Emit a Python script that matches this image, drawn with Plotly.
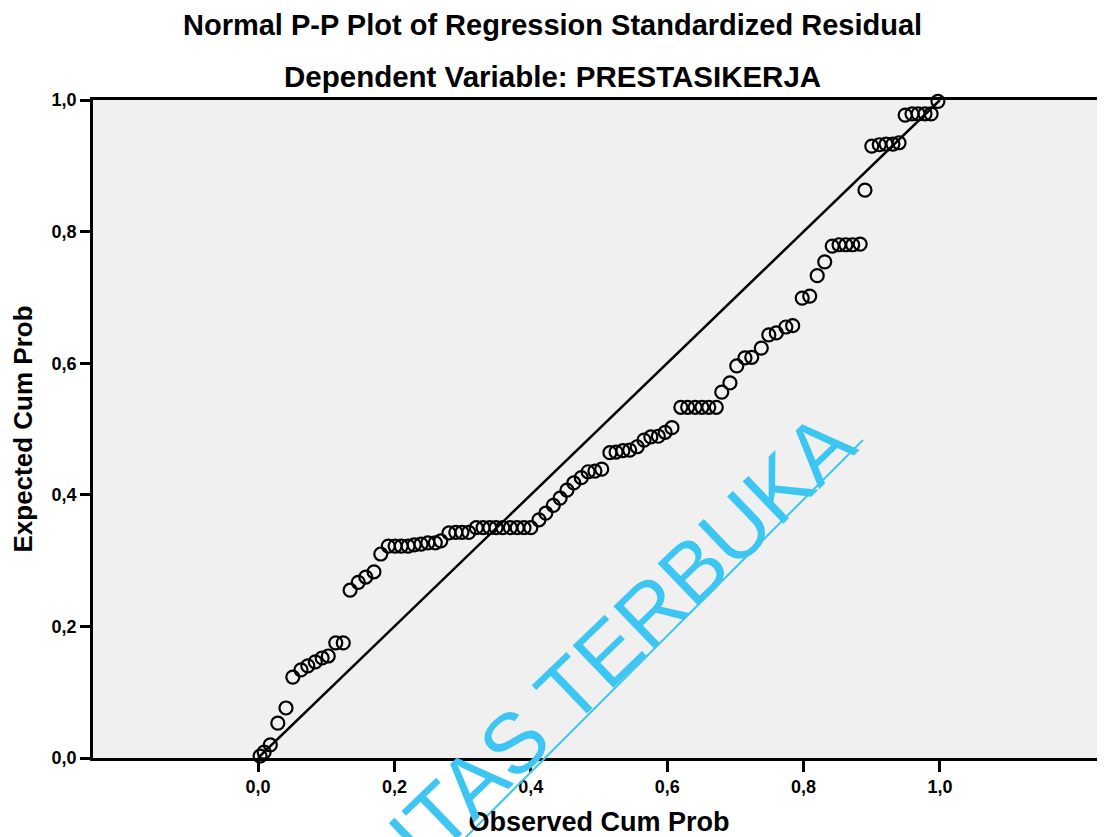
import plotly.graph_objects as go

# Observed cumulative probability (x) and expected cumulative probability (y)
observed_cum_prob = [
    0.003, 0.009, 0.018, 0.029, 0.041, 0.051, 0.063, 0.073, 0.084, 0.094,
    0.103, 0.114, 0.125, 0.135, 0.147, 0.158, 0.170, 0.180, 0.191, 0.201,
    0.210, 0.220, 0.229, 0.239, 0.249, 0.260, 0.268, 0.280, 0.290, 0.299,
    0.309, 0.320, 0.330, 0.340, 0.349, 0.359, 0.370, 0.380, 0.390, 0.400,
    0.412, 0.422, 0.433, 0.443, 0.453, 0.463, 0.474, 0.484, 0.494, 0.504,
    0.516, 0.525, 0.535, 0.545, 0.556, 0.566, 0.576, 0.587, 0.597, 0.607,
    0.620, 0.630, 0.641, 0.651, 0.661, 0.672, 0.680, 0.692, 0.702, 0.714,
    0.724, 0.738, 0.749, 0.760, 0.774, 0.784, 0.798, 0.809, 0.820, 0.831,
    0.842, 0.852, 0.862, 0.872, 0.883, 0.890, 0.900, 0.911, 0.921, 0.931,
    0.940, 0.949, 0.959, 0.968, 0.978, 0.987, 0.997,
]
expected_cum_prob = [
    0.003, 0.009, 0.020, 0.053, 0.076, 0.123, 0.134, 0.140, 0.146, 0.152,
    0.155, 0.175, 0.175, 0.255, 0.267, 0.275, 0.283, 0.310, 0.322, 0.322,
    0.322, 0.322, 0.324, 0.325, 0.327, 0.327, 0.330, 0.342, 0.343, 0.343,
    0.343, 0.350, 0.350, 0.350, 0.350, 0.350, 0.350, 0.350, 0.350, 0.350,
    0.362, 0.372, 0.384, 0.395, 0.407, 0.418, 0.426, 0.435, 0.436, 0.439,
    0.464, 0.465, 0.467, 0.468, 0.473, 0.483, 0.488, 0.489, 0.495, 0.502,
    0.533, 0.533, 0.533, 0.533, 0.533, 0.533, 0.556, 0.570, 0.596, 0.608,
    0.609, 0.623, 0.643, 0.646, 0.655, 0.657, 0.699, 0.702, 0.733, 0.754,
    0.778, 0.780, 0.780, 0.780, 0.781, 0.863, 0.930, 0.932, 0.933, 0.933,
    0.935, 0.977, 0.979, 0.979, 0.979, 0.979, 0.998,
]
reference_line = [0.0, 1.0]
tick_values = [0.0, 0.2, 0.4, 0.6, 0.8, 1.0]
tick_labels = ["0,0", "0,2", "0,4", "0,6", "0,8", "1,0"]

FONT = "Liberation Sans, Arial, sans-serif"
OFF = 8  # default page body margin in the browser
W, H = 1105 - OFF, 837 - OFF
ML, MR, MT, MB = 93 - OFF, 0, 100 - OFF, 79
plot_w = W - ML - MR
plot_h = H - MT - MB


def px_to_paper(px, py):
    # convert a screenshot pixel position into plot-area paper fractions
    return (px - OFF - ML) / plot_w, (H - MB - (py - OFF)) / plot_h


fig = go.Figure()
fig.add_trace(go.Scatter(
    x=reference_line, y=reference_line, mode="lines",
    line=dict(color="black", width=2.5), showlegend=False, hoverinfo="skip",
))
fig.add_trace(go.Scatter(
    x=observed_cum_prob, y=expected_cum_prob, mode="markers",
    marker=dict(symbol="circle-open", size=13, color="black", line=dict(width=2.2, color="black")),
    showlegend=False, cliponaxis=False,
))

axis_font = dict(family=FONT, size=18, color="black", weight="bold")
fig.update_xaxes(
    range=[-0.242, 1.242], tickvals=tick_values, ticktext=tick_labels,
    showgrid=False, zeroline=False, showline=True, linecolor="black", linewidth=2.5,
    mirror=True, ticks="outside", ticklen=11, tickwidth=2.5, tickcolor="black",
    tickfont=axis_font,
    title=dict(text="<b>Observed Cum Prob</b>", font=dict(family=FONT, size=27, color="black"), standoff=18),
)
fig.update_yaxes(
    range=[0, 1], tickvals=tick_values, ticktext=tick_labels,
    showgrid=False, zeroline=False, showline=True, linecolor="black", linewidth=2.5,
    ticks="outside", ticklen=10, tickwidth=2.5, tickcolor="black",
    tickfont=axis_font,
    title=dict(text="<b>Expected Cum Prob</b>", font=dict(family=FONT, size=26, color="black"), standoff=14),
)

fig.update_layout(
    width=W, height=H,
    margin=dict(l=ML, r=MR, t=MT, b=MB, pad=0),
    paper_bgcolor="white", plot_bgcolor="#f0f0f0",
    font=dict(family=FONT, color="black"),
)

tx, ty = px_to_paper(1105 / 2, 25)
sx, sy = px_to_paper(1105 / 2, 77)
wx, wy = px_to_paper(485, 770)
fig.add_annotation(text="<b>Normal P-P Plot of Regression Standardized Residual</b>",
                   xref="paper", yref="paper", x=tx, y=ty, xanchor="center", yanchor="middle",
                   showarrow=False, font=dict(family=FONT, size=29, color="black"))
fig.add_annotation(text="<b>Dependent Variable: PRESTASIKERJA</b>",
                   xref="paper", yref="paper", x=sx, y=sy, xanchor="center", yanchor="middle",
                   showarrow=False, font=dict(family=FONT, size=29.5, color="black"))
# Watermark
fig.add_annotation(text="UNIVERSITAS TERBUKA",
                   xref="paper", yref="paper", x=wx, y=wy, xanchor="center", yanchor="middle",
                   textangle=-44, showarrow=False,
                   font=dict(family=FONT, size=85, color="#3ec6f2"))
ux0, uy0 = px_to_paper(300, 1003)
ux1, uy1 = px_to_paper(863, 440)
fig.add_shape(type="line", xref="paper", yref="paper", x0=ux0, y0=uy0, x1=ux1, y1=uy1,
              line=dict(color="#3ec6f2", width=2))

fig.write_html("out.html")
